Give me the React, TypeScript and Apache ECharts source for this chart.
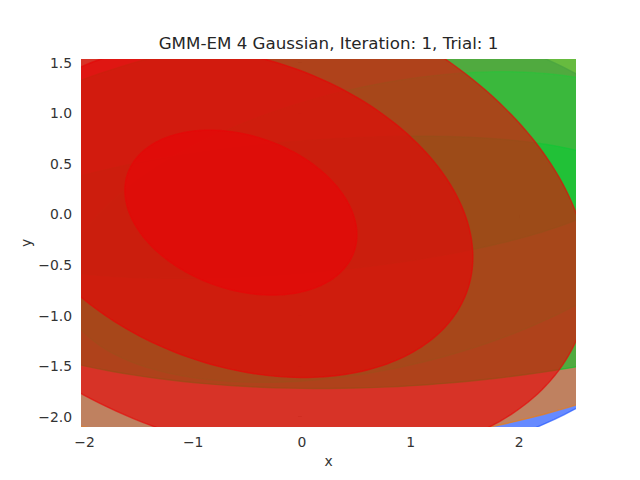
import React, { useEffect, useRef } from "react";
import * as echarts from "echarts";

// ---- data (data units) ----
const ellipseNames = [
  "blue 3σ",
  "orange 3σ",
  "green 3σ",
  "green 2σ",
  "green 1σ",
  "red 3σ",
  "red 2σ",
  "red 1σ",
];
const centerX = [-0.478, -0.133, 1.147, 0.736, -0.018, -0.561, -0.561, -0.561];
const centerY = [-0.264, 0.635, 0.158, -0.125, 0.071, 0.018, 0.018, 0.018];
const covXX = [17.598, 26.892, 24.369, 8.553, 8.939, 1.1388, 1.1388, 1.1388];
const covXY = [0.0, 0.0, 1.8323, 1.6996, 0.7682, -0.2345, -0.2345, -0.2345];
const covYY = [5.6057, 8.6017, 3.5305, 2.3597, 0.4939, 0.6646, 0.6646, 0.6646];
const ellipseScale = [1, 1, 1, 1, 1, 3, 2, 1];

const xTicks = [-2, -1, 0, 1, 2];
const yTicks = [-2.0, -1.5, -1.0, -0.5, 0.0, 0.5, 1.0, 1.5];

// ---- styles ----
const ellipseFill = [
  "rgba(40,90,255,0.71)",
  "rgba(240,125,10,0.65)",
  "rgba(0,200,40,0.58)",
  "rgba(0,220,50,0.27)",
  "rgba(0,205,50,0.42)",
  "rgba(228,8,8,0.64)",
  "rgba(228,8,8,0.66)",
  "rgba(228,8,8,0.75)",
];

const FONT = "'DejaVu Sans', 'Liberation Sans', sans-serif";
const minus = (s: string) => s.replace("-", "\u2212");

export default function App() {
  const ref = useRef<HTMLDivElement>(null);
  useEffect(() => {
    if (!ref.current) return;
    const chart = echarts.init(ref.current, undefined, { renderer: "svg" });
    const option: any = {
      animation: false,
      backgroundColor: "#ffffff",
      grid: { left: 81, right: 64, top: 59, bottom: 53, containLabel: false },
      xAxis: {
        type: "value",
        min: -2.032,
        max: 2.522,
        axisLine: { show: false },
        splitLine: { show: false },
        axisTick: {
          show: true,
          customValues: xTicks,
          length: 4,
          lineStyle: { color: "#555", width: 1 },
        },
        axisLabel: {
          customValues: xTicks,
          formatter: (v: number) => minus(String(v)),
          color: "#333",
          fontSize: 13.9,
          fontFamily: FONT,
          margin: 8,
        },
      },
      yAxis: {
        type: "value",
        min: -2.102,
        max: 1.537,
        axisLine: { show: false },
        splitLine: { show: false },
        axisTick: {
          show: true,
          customValues: yTicks,
          length: 4,
          lineStyle: { color: "#555", width: 1 },
        },
        axisLabel: {
          customValues: yTicks,
          formatter: (v: number) => minus(v.toFixed(1)),
          color: "#333",
          fontSize: 13.9,
          fontFamily: FONT,
          margin: 9,
        },
      },
      series: [
        {
          type: "custom",
          clip: true,
          silent: true,
          data: ellipseNames.map((n, i) => ({ name: n, value: [centerX[i], centerY[i]] })),
          renderItem: (params: any, api: any) => {
            const i = params.dataIndex;
            const k = ellipseScale[i];
            const l11 = Math.sqrt(covXX[i]);
            const l21 = covXY[i] / l11;
            const l22 = Math.sqrt(covYY[i] - l21 * l21);
            const pts: number[][] = [];
            const N = 240;
            for (let j = 0; j < N; j++) {
              const t = (2 * Math.PI * j) / N;
              const u = Math.cos(t);
              const v = Math.sin(t);
              const x = centerX[i] + k * l11 * u;
              const y = centerY[i] + k * (l21 * u + l22 * v);
              pts.push(api.coord([x, y]));
            }
            const cs = params.coordSys;
            return {
              type: "group",
              clipPath: {
                type: "rect",
                shape: { x: cs.x, y: cs.y, width: cs.width, height: cs.height },
              },
              children: [
                {
                  type: "polygon",
                  shape: { points: pts },
                  style: {
                    fill: ellipseFill[i],
                    stroke: ellipseFill[i],
                    lineWidth: 1.4,
                  },
                },
              ],
            };
          },
        },
      ],
      graphic: [
        {
          type: "text",
          x: 328.5,
          y: 43,
          style: {
            text: "GMM-EM 4 Gaussian, Iteration: 1, Trial: 1",
            font: `16.7px ${FONT}`,
            fill: "#262626",
            textAlign: "center",
            textVerticalAlign: "middle",
          },
        },
        {
          type: "text",
          x: 328.5,
          y: 461,
          style: {
            text: "x",
            font: `13.9px ${FONT}`,
            fill: "#333",
            textAlign: "center",
            textVerticalAlign: "middle",
          },
        },
        {
          type: "text",
          x: 26,
          y: 243,
          rotation: Math.PI / 2,
          style: {
            text: "y",
            font: `13.9px ${FONT}`,
            fill: "#333",
            textAlign: "center",
            textVerticalAlign: "middle",
          },
        },
      ],
    };
    chart.setOption(option);
    return () => chart.dispose();
  }, []);
  return (
    <div
      ref={ref}
      style={{ position: "absolute", left: 0, top: 0, width: 640, height: 480 }}
    />
  );
}
